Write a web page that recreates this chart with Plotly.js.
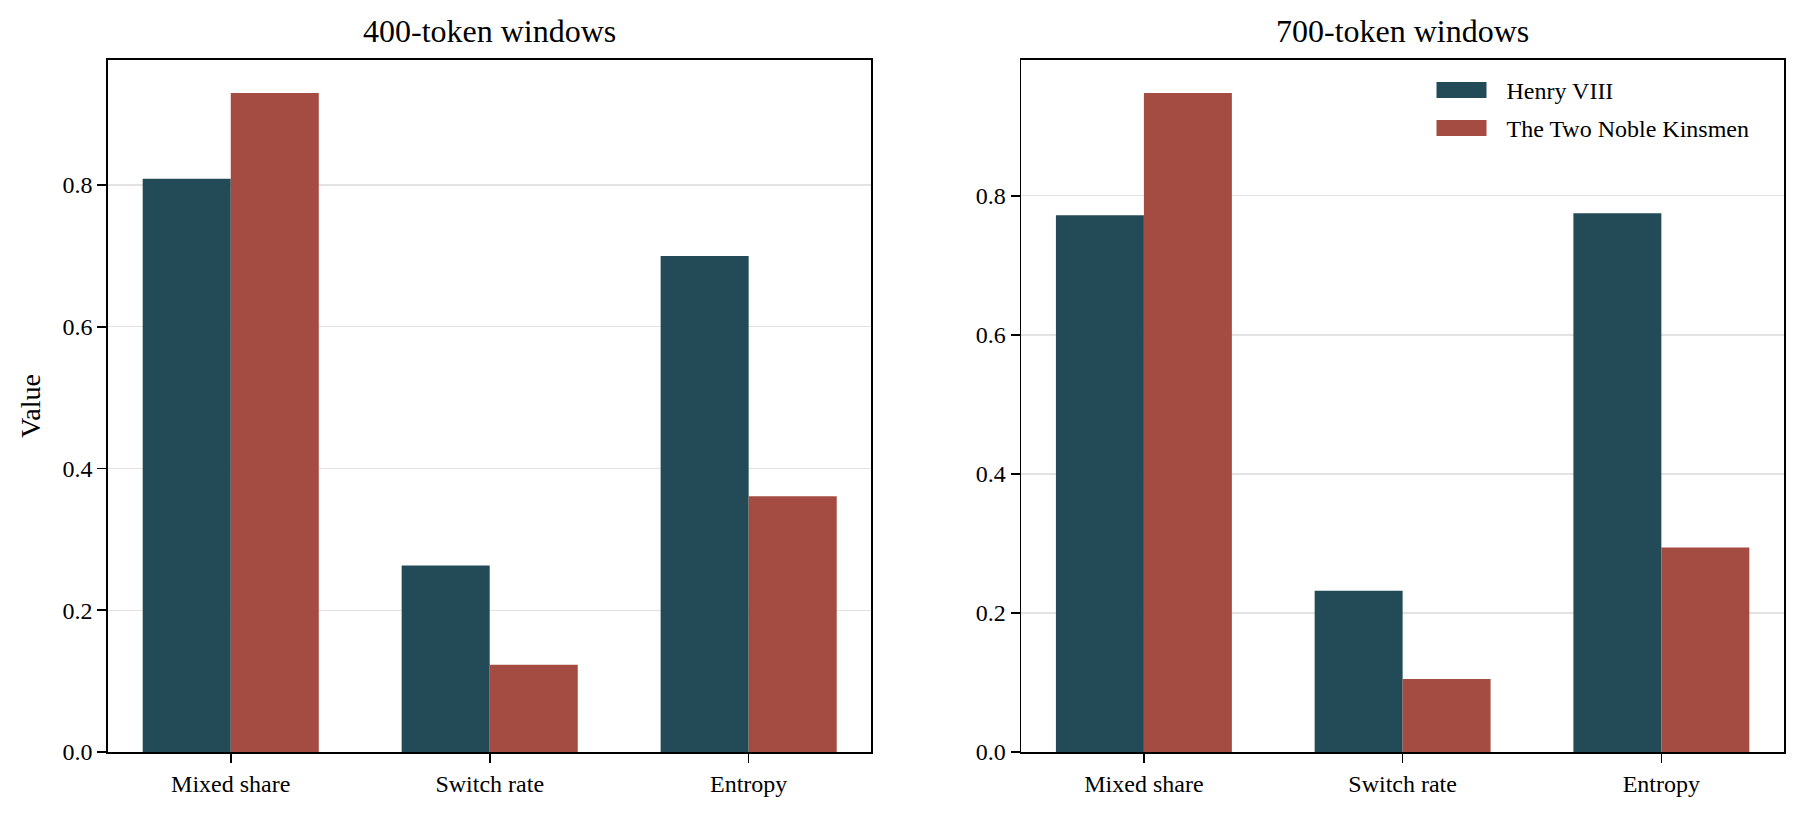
<!DOCTYPE html>
<html>
<head>
<meta charset="utf-8">
<script src="https://cdn.plot.ly/plotly-3.0.1.min.js"></script>
<style>
  html, body { margin: 0; padding: 0; background: #ffffff; }
  #chart { width: 1802px; height: 816px; }
</style>
</head>
<body>
<div id="chart"></div>
<script>
// Metric labels on the category axis
const metrics = ["Mixed share", "Switch rate", "Entropy"];

// Series names
const playA = "Henry VIII";
const playB = "The Two Noble Kinsmen";

// Panel titles
const panelTitles = ["400-token windows", "700-token windows"];

// 400-token windows
const henry400 = [0.809, 0.263, 0.700];
const kinsmen400 = [0.930, 0.123, 0.361];

// 700-token windows
const henry700 = [0.772, 0.232, 0.775];
const kinsmen700 = [0.948, 0.105, 0.294];

const colorA = "#234b57";
const colorB = "#a44c41";
const serif = "Liberation Serif, Times New Roman, serif";

function barTrace(y, name, color, xa, ya, showLegend) {
  return {
    type: "bar",
    x: metrics,
    y: y,
    name: name,
    xaxis: xa,
    yaxis: ya,
    marker: { color: color, line: { width: 0 } },
    showlegend: showLegend,
    hoverinfo: "skip"
  };
}

const traces = [
  barTrace(henry400, playA, colorA, "x", "y", false),
  barTrace(kinsmen400, playB, colorB, "x", "y", false),
  barTrace(henry700, playA, colorA, "x2", "y2", true),
  barTrace(kinsmen700, playB, colorB, "x2", "y2", true)
];

const top400 = Math.max(...henry400, ...kinsmen400) * 1.05;
const top700 = Math.max(...henry700, ...kinsmen700) * 1.05;

const tickFont = { family: serif, size: 24, color: "#000000" };

function xAxis(domain, anchor) {
  return {
    domain: domain,
    anchor: anchor,
    type: "category",
    range: [-0.474, 2.474],
    showline: true,
    linecolor: "#000000",
    linewidth: 1.7,
    mirror: true,
    ticks: "outside",
    ticklen: 9,
    tickwidth: 1.6,
    tickcolor: "#000000",
    showgrid: false,
    zeroline: false,
    tickfont: tickFont,
    fixedrange: true
  };
}

function yAxis(anchor, top, title) {
  const ax = {
    anchor: anchor,
    range: [0, top],
    dtick: 0.2,
    tick0: 0,
    tickformat: ".1f",
    showline: true,
    linecolor: "#000000",
    linewidth: 1.7,
    mirror: true,
    ticks: "outside",
    ticklen: 9,
    tickwidth: 1.6,
    tickcolor: "#000000",
    showgrid: true,
    gridcolor: "#e2e2e2",
    gridwidth: 1.3,
    zeroline: false,
    tickfont: tickFont,
    fixedrange: true
  };
  if (title) {
    ax.title = { text: title, font: { family: serif, size: 28, color: "#000000" }, standoff: 14 };
  }
  return ax;
}

const layout = {
  width: 1802,
  height: 816,
  margin: { l: 108, r: 18, t: 60, b: 64 },
  paper_bgcolor: "#ffffff",
  plot_bgcolor: "#ffffff",
  font: { family: serif, color: "#000000" },
  barmode: "group",
  bargap: 0.32,
  bargroupgap: 0,
  xaxis: xAxis([0, 0.4555], "y"),
  yaxis: yAxis("x", top400, "Value"),
  xaxis2: xAxis([0.5449, 1], "y2"),
  yaxis2: yAxis("x2", top700, null),
  legend: {
    x: 0.7867,
    xanchor: "left",
    y: 0.984,
    yanchor: "top",
    bgcolor: "rgba(255,255,255,0)",
    borderwidth: 0,
    itemwidth: 70,
    font: { family: serif, size: 24, color: "#000000" }
  },
  annotations: [
    {
      text: panelTitles[0], xref: "x domain", yref: "paper", x: 0.5, y: 1,
      xanchor: "center", yanchor: "bottom", yshift: 9, showarrow: false,
      font: { family: serif, size: 32, color: "#000000" }
    },
    {
      text: panelTitles[1], xref: "x2 domain", yref: "paper", x: 0.5, y: 1,
      xanchor: "center", yanchor: "bottom", yshift: 9, showarrow: false,
      font: { family: serif, size: 32, color: "#000000" }
    }
  ]
};

const gd = document.getElementById("chart");
Plotly.newPlot(gd, traces, layout, { staticPlot: true, displayModeBar: false }).then(function () {
  // Widen the legend swatches into flat rectangles
  const items = gd.querySelectorAll(".legend .traces");
  items.forEach(function (it) {
    const p = it.querySelector(".legendpoints path");
    if (p) p.setAttribute("d", "M20,8H-30V-8H20Z");
  });
  // Tighten the legend rows: first swatch centred at y=90, rows 38px apart
  if (items.length) {
    const box = items[0].querySelector(".legendpoints path").getBoundingClientRect();
    const dy = 90 - (box.top + box.height / 2);
    const m0 = /translate\(\s*([-\d.]+)[ ,]+([-\d.]+)\s*\)/.exec(items[0].getAttribute("transform"));
    if (m0) {
      const x0 = parseFloat(m0[1]);
      const y0 = parseFloat(m0[2]) + dy;
      items.forEach(function (it, i) {
        it.setAttribute("transform", "translate(" + x0 + "," + (y0 + 38 * i) + ")");
      });
    }
  }
});
</script>
</body>
</html>
